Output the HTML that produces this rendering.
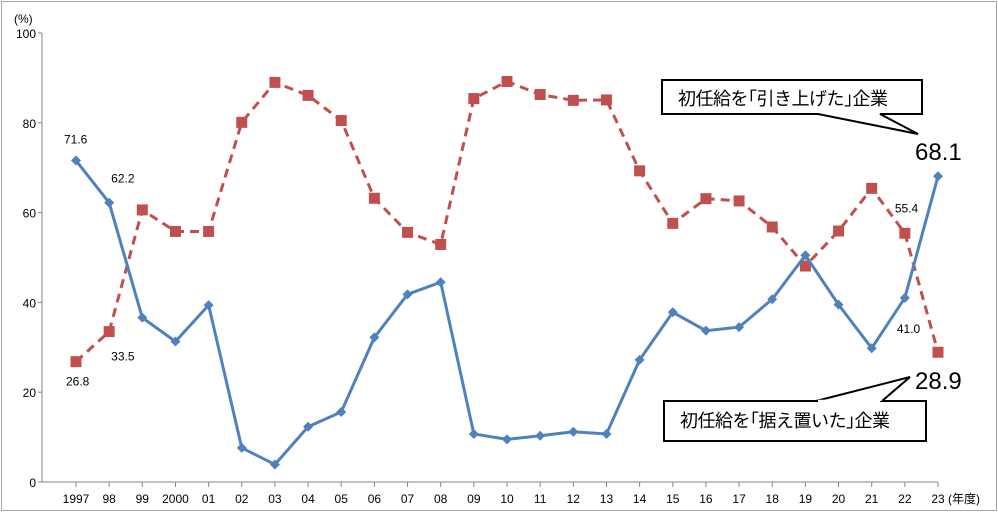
<!DOCTYPE html>
<html><head><meta charset="utf-8"><style>
body{margin:0;background:#fff}
svg{display:block;font-family:"Liberation Sans","Noto Sans CJK JP",sans-serif}
</style></head><body>
<svg id="chart" width="998" height="512" viewBox="0 0 998 512">
<rect x="1.5" y="1.5" width="995" height="509" fill="#fff" stroke="#a6a6a6"/>
<g id="axes"></g>
<g id="series"></g>
<g id="labels"></g>
<g>
<polygon points="662,80 922,80 922,114 880,114 918,134 818,114 662,114" fill="#fff" stroke="#000" stroke-width="2"/>
<text x="678" y="105" font-size="18" letter-spacing="-0.5" fill="#000">初任給を｢引き上げた｣企業</text>
</g>
<g>
<polygon points="664,401 926,401 926,441 664,441" fill="#fff" stroke="#000" stroke-width="2"/>
<polyline points="816,401 910,377 882,401" fill="#fff" stroke="#000" stroke-width="2"/>
<line x1="818" y1="401" x2="880" y2="401" stroke="#fff" stroke-width="2.5"/>
<text x="680" y="427" font-size="18" letter-spacing="-0.5" fill="#000">初任給を｢据え置いた｣企業</text>
</g>
<text x="915" y="160" font-size="24" fill="#000">68.1</text>
<text x="915" y="389" font-size="24" fill="#000">28.9</text>
</svg>
<script>
const categories=["1997","98","99","2000","01","02","03","04","05","06","07","08","09","10","11","12","13","14","15","16","17","18","19","20","21","22","23"];
const raised=[71.6,62.2,36.6,31.3,39.4,7.6,3.9,12.3,15.6,32.2,41.8,44.5,10.7,9.5,10.3,11.2,10.7,27.2,37.8,33.7,34.5,40.7,50.5,39.5,29.8,41.0,68.1];
const held=[26.8,33.5,60.6,55.8,55.8,80.1,89.0,86.1,80.5,63.2,55.6,52.9,85.4,89.2,86.3,85.0,85.1,69.3,57.6,63.1,62.6,56.8,48.1,55.9,65.4,55.4,28.9];
const yTicks=[0,20,40,60,80,100];
const NS="http://www.w3.org/2000/svg";
const X0=42,XF=76,XL=938,Y0=482,Y1=33;
const step=(XL-XF)/(categories.length-1);
const xs=i=>XF+step*i;
const ys=v=>Y0-(v/100)*(Y0-Y1);
function mk(tag,attrs,parent){const e=document.createElementNS(NS,tag);for(const k in attrs)e.setAttribute(k,attrs[k]);parent.appendChild(e);return e;}
const ax=document.getElementById('axes');
let a=mk('line',{x1:X0,y1:Y1,x2:X0,y2:Y0,stroke:'#868686'},ax);

a=mk('line',{x1:X0,y1:Y0,x2:XL,y2:Y0,stroke:'#868686'},ax);

yTicks.forEach(t=>{
 mk('line',{x1:X0-4,y1:ys(t),x2:X0,y2:ys(t),stroke:'#868686'},ax);
 const tx=mk('text',{x:X0-6,y:ys(t)+5,'font-size':12,'text-anchor':'end',fill:'#000'},ax);
 tx.textContent=t;
 
 
});
const pct=mk('text',{x:14,y:23,'font-size':12,fill:'#000'},ax);pct.textContent='(%)';

categories.forEach((c,i)=>{
 mk('line',{x1:xs(i),y1:Y0,x2:xs(i),y2:Y0+5,stroke:'#868686'},ax);
 const tx=mk('text',{x:xs(i),y:503,'font-size':12,'text-anchor':'middle',fill:'#000'},ax);
 tx.textContent=c;
 
 
});
const unit=mk('text',{x:948,y:503,'font-size':12,fill:'#000'},ax);unit.textContent='(年度)';

const sg=document.getElementById('series');
const hl=mk('polyline',{points:held.map((v,i)=>xs(i)+','+ys(v)).join(' '),fill:'none',stroke:'#c0504d','stroke-width':3,'stroke-dasharray':'9,6'},sg);

held.forEach((v,i)=>{const r=mk('rect',{x:xs(i)-5.5,y:ys(v)-5.5,width:11,height:11,fill:'#c0504d'},sg);
 });
const rl=mk('polyline',{points:raised.map((v,i)=>xs(i)+','+ys(v)).join(' '),fill:'none',stroke:'#4f81bd','stroke-width':3},sg);

raised.forEach((v,i)=>{const x=xs(i),y=ys(v);const p=mk('polygon',{points:`${x},${y-5} ${x+5},${y} ${x},${y+5} ${x-5},${y}`,fill:'#4f81bd'},sg);
 });
const lg=document.getElementById('labels');
function lab(t,i,v,dx,dy){const e=mk('text',{x:xs(i)+dx,y:ys(v)+dy,'font-size':12,fill:'#000'},lg);e.textContent=t;
 }
lab(raised[0].toFixed(1),0,raised[0],-12,-17);
lab(raised[1].toFixed(1),1,raised[1],2,-20);
lab(held[0].toFixed(1),0,held[0],-10,24);
lab(held[1].toFixed(1),1,held[1],2,29);
lab(held[25].toFixed(1),25,held[25],-10,-21);
lab(raised[25].toFixed(1),25,raised[25],-8,35);
</script>
</body></html>
